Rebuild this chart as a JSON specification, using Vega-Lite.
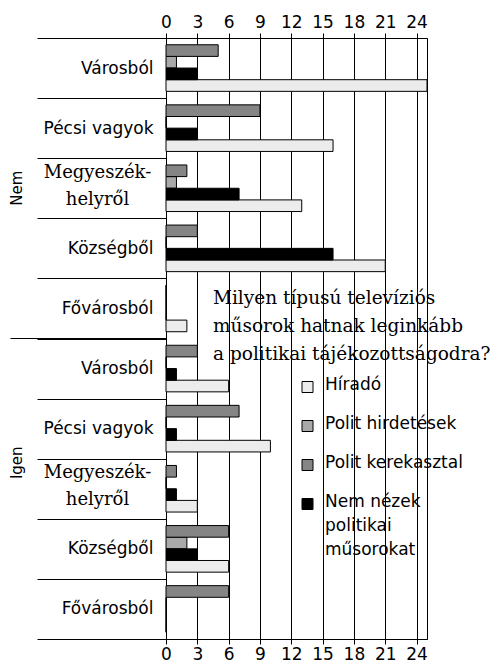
{
  "$schema": "https://vega.github.io/schema/vega-lite/v6.json",
  "width": 261,
  "height": 601,
  "autosize": {"type": "none"},
  "padding": {"left": 166, "top": 38, "right": 63, "bottom": 27},
  "background": "white",
  "config": {
    "view": {"stroke": "black", "strokeWidth": 1},
    "font": "DejaVu Sans",
    "axis": {"labelFont": "DejaVu Sans", "labelColor": "black", "domainColor": "black", "tickColor": "black", "gridColor": "black", "gridOpacity": 1, "titleColor": "black"}
  },
  "data": {
    "values": [
      {"g": "Nem", "c": "Nem|Városból", "s": "Híradó", "v": 25},
      {"g": "Nem", "c": "Nem|Városból", "s": "Polit hirdetések", "v": 1},
      {"g": "Nem", "c": "Nem|Városból", "s": "Polit kerekasztal", "v": 5},
      {"g": "Nem", "c": "Nem|Városból", "s": "Nem nézek politikai műsorokat", "v": 3},
      {"g": "Nem", "c": "Nem|Pécsi vagyok", "s": "Híradó", "v": 16},
      {"g": "Nem", "c": "Nem|Pécsi vagyok", "s": "Polit hirdetések", "v": 0},
      {"g": "Nem", "c": "Nem|Pécsi vagyok", "s": "Polit kerekasztal", "v": 9},
      {"g": "Nem", "c": "Nem|Pécsi vagyok", "s": "Nem nézek politikai műsorokat", "v": 3},
      {"g": "Nem", "c": "Nem|Megyeszék-|helyről", "s": "Híradó", "v": 13},
      {"g": "Nem", "c": "Nem|Megyeszék-|helyről", "s": "Polit hirdetések", "v": 1},
      {"g": "Nem", "c": "Nem|Megyeszék-|helyről", "s": "Polit kerekasztal", "v": 2},
      {"g": "Nem", "c": "Nem|Megyeszék-|helyről", "s": "Nem nézek politikai műsorokat", "v": 7},
      {"g": "Nem", "c": "Nem|Községből", "s": "Híradó", "v": 21},
      {"g": "Nem", "c": "Nem|Községből", "s": "Polit hirdetések", "v": 0},
      {"g": "Nem", "c": "Nem|Községből", "s": "Polit kerekasztal", "v": 3},
      {"g": "Nem", "c": "Nem|Községből", "s": "Nem nézek politikai műsorokat", "v": 16},
      {"g": "Nem", "c": "Nem|Fővárosból", "s": "Híradó", "v": 2},
      {"g": "Nem", "c": "Nem|Fővárosból", "s": "Polit hirdetések", "v": 0},
      {"g": "Nem", "c": "Nem|Fővárosból", "s": "Polit kerekasztal", "v": 0},
      {"g": "Nem", "c": "Nem|Fővárosból", "s": "Nem nézek politikai műsorokat", "v": 0},
      {"g": "Igen", "c": "Igen|Városból", "s": "Híradó", "v": 6},
      {"g": "Igen", "c": "Igen|Városból", "s": "Polit hirdetések", "v": 0},
      {"g": "Igen", "c": "Igen|Városból", "s": "Polit kerekasztal", "v": 3},
      {"g": "Igen", "c": "Igen|Városból", "s": "Nem nézek politikai műsorokat", "v": 1},
      {"g": "Igen", "c": "Igen|Pécsi vagyok", "s": "Híradó", "v": 10},
      {"g": "Igen", "c": "Igen|Pécsi vagyok", "s": "Polit hirdetések", "v": 0},
      {"g": "Igen", "c": "Igen|Pécsi vagyok", "s": "Polit kerekasztal", "v": 7},
      {"g": "Igen", "c": "Igen|Pécsi vagyok", "s": "Nem nézek politikai műsorokat", "v": 1},
      {"g": "Igen", "c": "Igen|Megyeszék-|helyről", "s": "Híradó", "v": 3},
      {"g": "Igen", "c": "Igen|Megyeszék-|helyről", "s": "Polit hirdetések", "v": 0},
      {"g": "Igen", "c": "Igen|Megyeszék-|helyről", "s": "Polit kerekasztal", "v": 1},
      {"g": "Igen", "c": "Igen|Megyeszék-|helyről", "s": "Nem nézek politikai műsorokat", "v": 1},
      {"g": "Igen", "c": "Igen|Községből", "s": "Híradó", "v": 6},
      {"g": "Igen", "c": "Igen|Községből", "s": "Polit hirdetések", "v": 2},
      {"g": "Igen", "c": "Igen|Községből", "s": "Polit kerekasztal", "v": 6},
      {"g": "Igen", "c": "Igen|Községből", "s": "Nem nézek politikai műsorokat", "v": 3},
      {"g": "Igen", "c": "Igen|Fővárosból", "s": "Híradó", "v": 0},
      {"g": "Igen", "c": "Igen|Fővárosból", "s": "Polit hirdetések", "v": 0},
      {"g": "Igen", "c": "Igen|Fővárosból", "s": "Polit kerekasztal", "v": 6},
      {"g": "Igen", "c": "Igen|Fővárosból", "s": "Nem nézek politikai műsorokat", "v": 0}
    ]
  },
  "layer": [
    {
      "mark": {"type": "bar", "stroke": "black", "strokeWidth": 1},
      "encoding": {
        "y": {
          "field": "c", "type": "nominal", "sort": null,
          "scale": {"paddingInner": 0, "paddingOuter": 0},
          "axis": {
            "title": null, "orient": "left", "grid": false, "domain": true,
            "tickBand": "extent", "tickSize": 129,
            "labelExpr": "slice(split(datum.label, '|'), 1)",
            "labelLimit": 0,
            "labelLineHeight": 27,
            "labelPadding": {"condition": {"test": "datum.value == 'Nem|Megyeszék-|helyről' || datum.value == 'Igen|Megyeszék-|helyről'", "value": -60}, "value": -116},
            "labelOffset": {"condition": {"test": "datum.value == 'Nem|Megyeszék-|helyről' || datum.value == 'Igen|Megyeszék-|helyről'", "value": -16}, "value": 0},
            "labelAlign": {"condition": {"test": "datum.value == 'Nem|Megyeszék-|helyről' || datum.value == 'Igen|Megyeszék-|helyről'", "value": "center"}, "value": "right"},
            "labelFont": {"condition": {"test": "datum.value == 'Nem|Megyeszék-|helyről' || datum.value == 'Igen|Megyeszék-|helyről'", "value": "DejaVu Serif"}, "value": "DejaVu Sans"},
            "labelFontSize": {"condition": {"test": "datum.value == 'Nem|Megyeszék-|helyről' || datum.value == 'Igen|Megyeszék-|helyről'", "value": 18}, "value": 17}
          }
        },
        "yOffset": {
          "field": "s", "type": "nominal",
          "scale": {"domain": ["Polit kerekasztal", "Polit hirdetések", "Nem nézek politikai műsorokat", "Híradó"], "paddingInner": 0, "paddingOuter": 0.58}
        },
        "x": {
          "field": "v", "type": "quantitative",
          "scale": {"domain": [0, 25], "nice": false, "zero": true},
          "axis": {"orient": "top", "title": null, "values": [0, 3, 6, 9, 12, 15, 18, 21, 24], "grid": true, "tickSize": 5, "labelFontSize": 17, "labelPadding": 2, "labelFlush": false}
        },
        "color": {
          "field": "s", "type": "nominal",
          "scale": {"domain": ["Híradó", "Polit hirdetések", "Polit kerekasztal", "Nem nézek politikai műsorokat"], "range": ["#ececec", "#a9a9a9", "#858585", "#000000"]},
          "legend": {
            "orient": "none", "legendX": 47, "legendY": 251, "padding": 0,
            "title": ["Milyen típusú televíziós", "műsorok hatnak leginkább", "a politikai tájékozottságodra?"],
            "titleFont": "DejaVu Serif", "titleFontSize": 18.5, "titleFontWeight": "normal", "titleLineHeight": 28, "titleColor": "black", "titleLimit": 0, "titlePadding": 15,
            "labelFont": "DejaVu Sans", "labelFontSize": 17, "labelColor": "black", "labelLimit": 0,
            "labelExpr": "datum.label == 'Nem nézek politikai műsorokat' ? ['Nem nézek', 'politikai', 'műsorokat'] : datum.label",
            "symbolType": "square", "symbolSize": 121, "symbolStrokeColor": "black", "symbolStrokeWidth": 1,
            "symbolOffset": 86, "labelOffset": 9, "rowPadding": 20,
            "labelBaseline": "top",
            "encode": {"labels": {"update": {"dy": {"value": -10}, "lineHeight": {"value": 24}}}}
          }
        }
      }
    },
    {
      "mark": {"type": "point", "opacity": 0},
      "encoding": {
        "y": {
          "field": "g", "type": "nominal", "sort": ["Nem", "Igen"],
          "scale": {"type": "band", "paddingInner": 0, "paddingOuter": 0},
          "axis": {
            "title": null, "orient": "left", "offset": 0, "domain": false, "grid": false,
            "labelAngle": 270, "labelAlign": "center", "labelBaseline": "bottom",
            "labelFontSize": 15, "labelPadding": -14,
            "labelOffset": {"condition": {"test": "datum.value == 'Igen'", "value": -26}, "value": 0},
            "bandPosition": 0, "tickExtra": false, "tickSize": 156,
            "tickColor": {"condition": {"test": "datum.value == 'Igen'", "value": "black"}, "value": "transparent"}
          }
        },
        "x": {
          "field": "v", "type": "quantitative",
          "scale": {"domain": [0, 25], "nice": false, "zero": true},
          "axis": {"orient": "bottom", "title": null, "values": [0, 3, 6, 9, 12, 15, 18, 21, 24], "grid": false, "tickSize": 5, "labelFontSize": 17, "labelPadding": 2, "labelFlush": false}
        }
      }
    }
  ],
  "resolve": {"scale": {"y": "independent"}, "axis": {"y": "independent", "x": "independent"}}
}
